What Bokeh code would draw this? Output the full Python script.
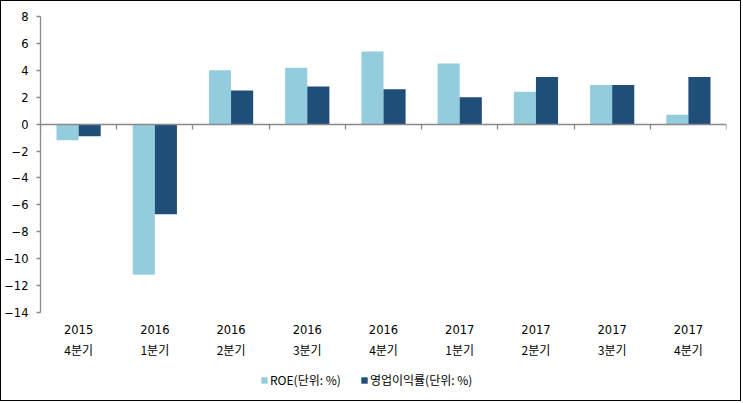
from bokeh.plotting import figure
from bokeh.models import (Range1d, LinearAxis, FixedTicker, Legend,
                          LegendItem, ColumnDataSource)
from bokeh.core.properties import value
from bokeh.transform import dodge
from bokeh.embed import file_html
from bokeh.resources import INLINE

years = ["2015", "2016", "2016", "2016", "2016", "2017", "2017", "2017", "2017"]
quarters = ["4분기", "1분기", "2분기", "3분기", "4분기", "1분기", "2분기", "3분기", "4분기"]
roe = [-1.2, -11.2, 4.0, 4.2, 5.4, 4.5, 2.4, 2.9, 0.7]
opm = [-0.9, -6.7, 2.5, 2.8, 2.6, 2.0, 3.5, 2.9, 3.5]
y_ticks = list(range(-14, 9, 2))
series_names = ["ROE(단위: %)", "영업이익률(단위: %)"]
colors = ["#93CDDD", "#1F4E79"]

n = len(years)
centers = [i + 0.5 for i in range(n)]
Y_MIN, Y_MAX = -14, 8

# layout (pixels)
W, H = 741, 401
LEFT, RIGHT, TOP = 38, 16, 15
AXIS_PX = 296                      # height of the -14..8 value axis
PX_PER_UNIT = AXIS_PX / (Y_MAX - Y_MIN)
BELOW_PX = H - TOP - AXIS_PX       # room under the value axis for labels and legend
y_start = Y_MIN - BELOW_PX / PX_PER_UNIT
y_year = Y_MIN - 17 / PX_PER_UNIT
y_quarter = Y_MIN - 37 / PX_PER_UNIT

src = ColumnDataSource(dict(x=centers, roe=roe, opm=opm))
lab = ColumnDataSource(dict(x=centers, year=years, quarter=quarters,
                            yy=[y_year] * n, yq=[y_quarter] * n))

FONT = "Noto Sans CJK KR"
AXIS_COLOR = "#898989"

p = figure(width=W, height=H, x_range=Range1d(0, n),
           y_range=Range1d(y_start, Y_MAX), output_backend="svg", toolbar_location=None,
           x_axis_location=None, y_axis_location=None,
           min_border_left=LEFT, min_border_right=RIGHT, min_border_top=TOP, min_border_bottom=0)
p.outline_line_color = None
p.xgrid.visible = False
p.ygrid.visible = False
p.styles = {"border": "1px solid #000000"}

r1 = p.vbar(x=dodge("x", -0.145), top="roe", width=0.29, source=src,
            fill_color=colors[0], line_color=None)
r2 = p.vbar(x=dodge("x", 0.145), top="opm", width=0.29, source=src,
            fill_color=colors[1], line_color=None)

# y axis
yax = LinearAxis(ticker=FixedTicker(ticks=y_ticks), bounds=(Y_MIN, Y_MAX))
yax.axis_line_color = AXIS_COLOR
yax.axis_line_width = 1.3
yax.major_tick_line_color = AXIS_COLOR
yax.major_tick_line_width = 1.3
yax.major_tick_out = 4
yax.major_tick_in = 0
yax.minor_tick_line_color = None
yax.major_label_text_font = "DejaVu Sans"
yax.major_label_text_font_size = "11.5px"
yax.major_label_text_color = "#000000"
yax.major_label_standoff = 8
p.add_layout(yax, "left")

# zero-line axis with ticks at category boundaries (ticks point down)
zax = LinearAxis(ticker=FixedTicker(ticks=list(range(n + 1))), fixed_location=0)
zax.axis_line_color = AXIS_COLOR
zax.axis_line_width = 1.3
zax.major_tick_line_color = AXIS_COLOR
zax.major_tick_line_width = 1.3
zax.major_tick_out = 0
zax.major_tick_in = 5
zax.minor_tick_line_color = None
zax.major_label_standoff = 0
zax.major_label_text_font_size = "0px"
zax.major_label_text_alpha = 0
p.add_layout(zax, "above")

# category labels
p.text(x="x", y="yy", text="year", source=lab, text_font=value("DejaVu Sans"),
       text_font_size=value("11.5px"), text_color="#000000",
       text_align="center", text_baseline="middle")
p.text(x="x", y="yq", text="quarter", source=lab, text_font=value(FONT),
       text_font_size=value("12px"), text_color="#000000",
       text_align="center", text_baseline="middle")

legend = Legend(items=[LegendItem(label=series_names[0], renderers=[r1]),
                       LegendItem(label=series_names[1], renderers=[r2])],
                orientation="horizontal", location=(220, 14))
legend.border_line_color = None
legend.background_fill_alpha = 0
legend.glyph_width = 8
legend.glyph_height = 8
legend.label_height = 12
legend.label_standoff = 2
legend.spacing = 19
legend.padding = 0
legend.margin = 0
legend.label_text_font = FONT
legend.label_text_font_size = "12px"
legend.label_text_color = "#000000"
p.add_layout(legend, "center")

open("out.html", "w").write(file_html(p, INLINE))
